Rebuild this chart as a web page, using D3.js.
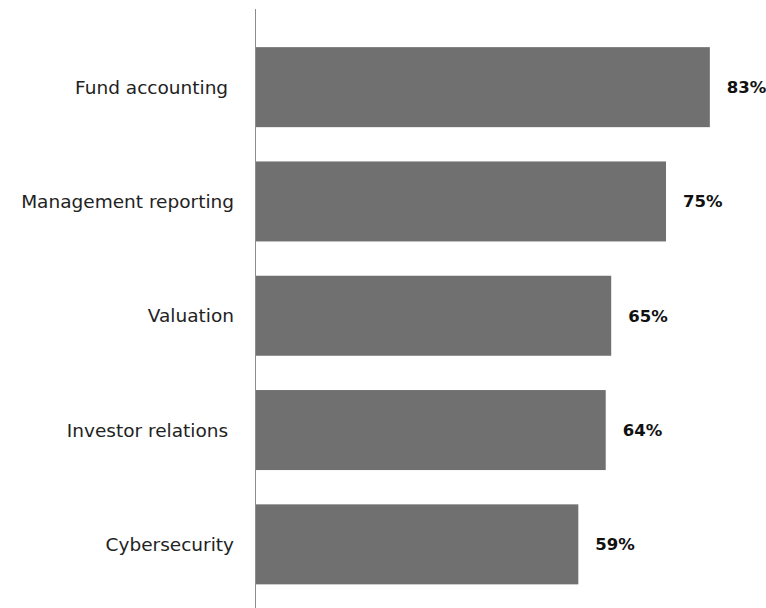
<!DOCTYPE html>
<html>
<head>
<meta charset="utf-8">
<script src="https://cdn.jsdelivr.net/npm/d3@7"></script>
<style>
  body { margin: 0; background: #fff; }
  svg text { font-family: "DejaVu Sans", sans-serif; }
</style>
</head>
<body>
<svg id="chart" width="766" height="608"></svg>
<script>
const categories = ['Fund accounting ', 'Management reporting', 'Valuation', 'Investor relations ', 'Cybersecurity'];
const values = [83, 75, 65, 64, 59];

const svg = d3.select('#chart');

const axisX = 255;

const x = d3.scaleLinear()
  .domain([0, 100])
  .range([axisX, axisX + 548]);

const y = d3.scaleBand()
  .domain(categories)
  .range([30, 601.5])
  .paddingInner(0.3)
  .paddingOuter(0.15);

const rows = categories.map((c, i) => ({name: c, value: values[i]}));

svg.selectAll('rect.bar')
    .data(rows)
  .join('rect')
    .attr('class', 'bar')
    .attr('x', x(0))
    .attr('y', d => y(d.name))
    .attr('width', d => x(d.value) - x(0))
    .attr('height', y.bandwidth())
    .attr('fill', '#707070');

svg.append('line')
  .attr('x1', axisX + 0.5).attr('x2', axisX + 0.5)
  .attr('y1', 9).attr('y2', 608)
  .attr('stroke', '#8c8c8c')
  .attr('stroke-width', 1);

svg.selectAll('text.cat')
    .data(rows)
  .join('text')
    .attr('class', 'cat')
    .attr('x', 234)
    .attr('y', d => y(d.name) + y.bandwidth() / 2)
    .attr('dy', '0.35em')
    .attr('text-anchor', 'end')
    .style('white-space', 'pre')
    .attr('font-size', 18.5)
    .attr('fill', '#222')
    .text(d => d.name);

svg.selectAll('text.val')
    .data(rows)
  .join('text')
    .attr('class', 'val')
    .attr('x', d => x(d.value) + 17)
    .attr('y', d => y(d.name) + y.bandwidth() / 2)
    .attr('dy', '0.35em')
    .attr('font-size', 16.5)
    .attr('font-weight', 'bold')
    .attr('fill', '#111')
    .text(d => d.value + '%');
</script>
</body>
</html>
